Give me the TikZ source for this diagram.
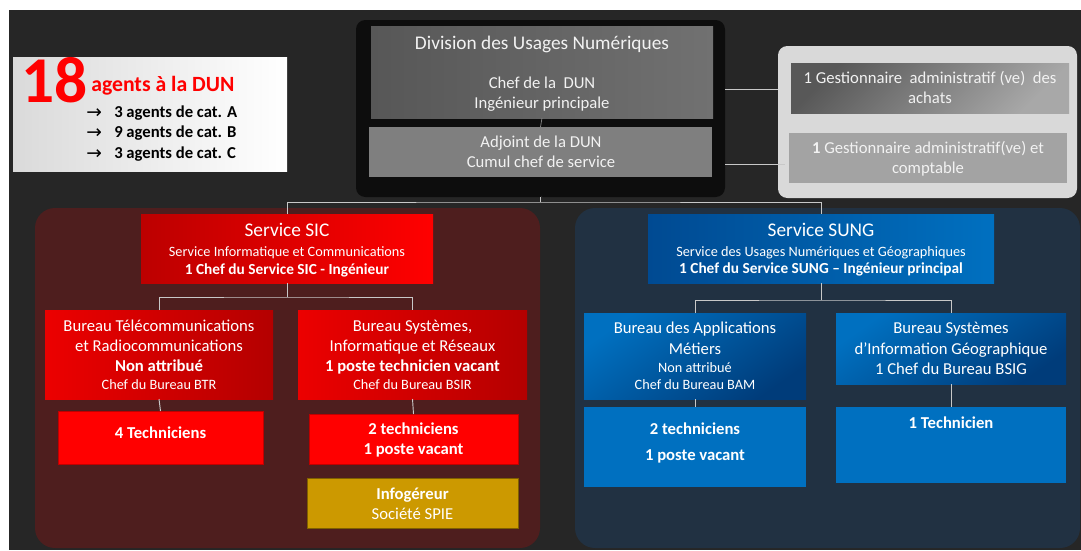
\documentclass[tikz,border=0pt]{standalone}
\usepackage{fontspec}
\setmainfont{Carlito}
\newfontfamily\arrowfont{DejaVu Sans}
\usetikzlibrary{fit}
\definecolor{bgdark}{HTML}{262626}
\definecolor{dunbox}{HTML}{0D0D0D}
\definecolor{chefL}{HTML}{575757}
\definecolor{chefR}{HTML}{717171}
\definecolor{adjgray}{HTML}{7F7F7F}
\definecolor{gestbg}{HTML}{D9D9D9}
\definecolor{achD}{HTML}{585858}
\definecolor{achL}{HTML}{A8A8A8}
\definecolor{cptgray}{HTML}{A3A3A3}
\definecolor{sicbg}{HTML}{4E1E1E}
\definecolor{sungbg}{HTML}{213142}
\definecolor{redD}{HTML}{B40000}
\definecolor{redM}{HTML}{BC0000}
\definecolor{redB}{HTML}{FF0000}
\definecolor{redL}{HTML}{EC0000}
\definecolor{redEdge}{HTML}{C00000}
\definecolor{gold}{HTML}{CC9900}
\definecolor{goldEdge}{HTML}{7F6000}
\definecolor{blueD}{HTML}{004A92}
\definecolor{blueB}{HTML}{0070C0}
\definecolor{blueDD}{HTML}{003C7A}
\definecolor{linegray}{HTML}{C8C8C8}
\definecolor{txtgray}{HTML}{F2F2F2}
\definecolor{agL}{HTML}{DADADA}
\definecolor{agM}{HTML}{C2C2C2}
\newcommand{\myfs}[1]{\fontsize{#1}{#1}\selectfont}
\tikzset{
  box/.style={inner sep=0pt, outer sep=0pt, draw=none},
  conn/.style={draw=linegray, line width=0.7pt},
  txt/.style={inner sep=0pt, anchor=base, text=white},
  tBig/.style={font=\myfs{14.5}},
  tReg/.style={font=\myfs{12.5}},
  tBold/.style={font=\bfseries\myfs{12.5}},
  tSub/.style={font=\myfs{10.7}},
  tSubB/.style={font=\bfseries\myfs{11.5}},
  tArr/.style={inner sep=0pt, anchor=base west, text=black, font=\arrowfont\myfs{14}},
}
\begin{document}
\begin{tikzpicture}[x=0.75pt,y=-0.75pt]
\useasboundingbox (0,0) rectangle (1081,550);
\fill[white] (0,0) rectangle (1081,550);
\fill[bgdark] (9,10) rectangle (1081,550);

% ---- 18 agents box
\node[box, fit={(13,57) (287,171)}, left color=agL, middle color=agM, right color=white] (agbox) {};
\node[txt, anchor=base west, text=red, font=\bfseries\myfs{49}] (n18) at (21,102) {18};
\node[txt, anchor=base west, text=red, font=\bfseries\myfs{16.3}] (agt) at (91,91) {agents à la DUN};
\node[tArr] (arA) at (86,118) {→};
\node[tArr] (arB) at (86,138.5) {→};
\node[tArr] (arC) at (86,159) {→};
\node[txt, anchor=base west, text=black, tBold] (catA) at (114,117) {3 agents de cat. A};
\node[txt, anchor=base west, text=black, tBold] (catB) at (114,137.5) {9 agents de cat. B};
\node[txt, anchor=base west, text=black, tBold] (catC) at (114,158) {3 agents de cat. C};

% ---- DUN
\node[box, fit={(356,20) (725,197)}, fill=dunbox, rounded corners=7pt] (dun) {};
\node[box, fit={(371,26) (713,118)}, left color=chefL, right color=chefR] (chef) {};
\node[box, fit={(369,127) (712,177)}, fill=adjgray] (adj) {};
\draw[draw=gray, line width=0.6pt] (chef.south) -- (adj.north);
\node[txt, text=txtgray, tBig] (dun1) at (542,49) {Division des Usages Numériques};
\node[txt, text=txtgray, tReg] (dun2) at (542,88) {Chef de la~ DUN};
\node[txt, text=txtgray, tReg] (dun3) at (542,108) {Ingénieur principale};
\node[txt, text=txtgray, tReg] (adj1) at (541,147) {Adjoint de la DUN};
\node[txt, text=txtgray, tReg] (adj2) at (541,167) {Cumul chef de service};

% ---- Gestionnaires
\node[box, fit={(778,46) (1077,198)}, fill=gestbg, rounded corners=7pt] (gest) {};
\node[box, fit={(791,63) (1069,113)}, top color=achD, bottom color=achL, shading angle=45] (achats) {};
\node[box, fit={(789,133) (1067,183)}, fill=cptgray] (compt) {};
\node[txt, text=txtgray, tReg] (ach1) at (930,83) {1 Gestionnaire~ administratif (ve)~ des};
\node[txt, text=txtgray, tReg] (ach2) at (930,103) {achats};
\node[txt, text=txtgray, tReg] (cpt1) at (928,153) {\textbf{1} Gestionnaire administratif(ve) et};
\node[txt, text=txtgray, tReg] (cpt2) at (928,173) {comptable};
\coordinate (c1) at (778,89);
\coordinate (c2) at (785,164);
\draw[conn] (dun.east |- c1) -- (c1);
\draw[conn] (dun.east |- c2) -- (c2);

% ---- containers
\node[box, fit={(35,208) (540,548)}, fill=sicbg, rounded corners=15pt] (sicbg) {};
\node[box, fit={(575,208) (1080,548)}, fill=sungbg, rounded corners=15pt] (sungbg) {};

% ---- top connectors
\coordinate (jt) at (542,202);
\draw[conn] (dun.south) -- (dun.south |- jt);
\draw[draw=black!85, line width=0.6pt] (541,196) -- (552,209);

% ---- SIC
\node[box, fit={(141,214) (433,283)}, left color=redM, right color=redB] (sic) {};
\node[txt, tBig] (sic1) at (287,236) {Service SIC};
\node[txt, tSub] (sic2) at (287,256) {Service Informatique et Communications};
\node[txt, tSubB] (sic3) at (287,274) {1 Chef du Service SIC - Ingénieur};

% ---- SUNG
\node[box, fit={(648,214) (994,283)}, left color=blueD, right color=blueB] (sung) {};
\node[txt, tBig] (sung1) at (821,236) {Service SUNG};
\node[txt, tSub] (sung2) at (821,256) {Service des Usages Numériques et Géographiques};
\node[txt, tSubB] (sung3) at (821,273) {1 Chef du Service SUNG – Ingénieur principal};

\draw[conn] (sic.north) |- (jt) -| (sung.north);

% ---- SIC bureaus
\coordinate (j2) at (287,297);
\node[box, fit={(45,310) (273,399)}, left color=redL, right color=redD] (btr) {};
\node[box, fit={(298,310) (527,399)}, left color=redL, right color=redD] (bsir) {};
\draw[conn] (sic.south) -- (j2);
\draw[conn] (btr.north) |- (j2) -| (bsir.north);
\node[txt, tReg] (btr1) at (159,331) {Bureau Télécommunications};
\node[txt, tReg] (btr2) at (159,351) {et Radiocommunications};
\node[txt, tBold] (btr3) at (159,371) {Non attribué};
\node[txt, tSub] (btr4) at (159,389) {Chef du Bureau BTR};
\node[txt, tReg] (bsir1) at (412.5,331) {Bureau Systèmes,};
\node[txt, tReg] (bsir2) at (412.5,351) {Informatique et Réseaux};
\node[txt, tBold] (bsir3) at (412.5,371) {1 poste technicien vacant};
\node[txt, tSub] (bsir4) at (412.5,389) {Chef du Bureau BSIR};

\node[box, fit={(58,411) (263,464)}, fill=redB, draw=redEdge, line width=0.6pt] (btrt) {};
\node[box, fit={(309,414) (518,464)}, fill=redB, draw=redEdge, line width=0.6pt] (bsirt) {};
\draw[conn] (btr.south) -- (btrt.north);
\draw[conn] (bsir.south) -- (bsirt.north);
\node[txt, tBold] (btrt1) at (160.5,438) {4 Techniciens};
\node[txt, tBold] (bsirt1) at (413.5,434) {2 techniciens};
\node[txt, tBold] (bsirt2) at (413.5,454) {1 poste vacant};

\node[box, fit={(307,478) (518,528)}, fill=gold, draw=goldEdge, line width=0.7pt] (info) {};
\node[txt, tBold] (info1) at (412.5,499) {Infogéreur};
\node[txt, tReg] (info2) at (412.5,519) {Société SPIE};

% ---- SUNG bureaus
\coordinate (j3) at (821,300);
\node[box, fit={(584,313) (806,399)}, top color=blueB, bottom color=blueDD, shading angle=35] (bam) {};
\node[box, fit={(836,313) (1066,384)}, top color=blueB, bottom color=blueDD, shading angle=35] (bsig) {};
\draw[conn] (sung.south) -- (j3);
\draw[conn] (bam.north) |- (j3) -| (bsig.north);
\node[txt, tReg] (bam1) at (695,333) {Bureau des Applications};
\node[txt, tReg] (bam2) at (695,354) {Métiers};
\node[txt, tSub] (bam3) at (695,372) {Non attribué};
\node[txt, tSub] (bam4) at (695,389) {Chef du Bureau BAM};
\node[txt, tReg] (bsig1) at (951,333) {Bureau Systèmes};
\node[txt, tReg] (bsig2) at (951,354) {d’Information Géographique};
\node[txt, tReg] (bsig3) at (951,374) {1 Chef du Bureau BSIG};

\node[box, fit={(584,407) (806,487)}, fill=blueB] (bamt) {};
\node[box, fit={(836,407) (1066,483)}, fill=blueB] (bsigt) {};
\draw[conn] (bam.south) -- (bamt.north);
\draw[conn] (bsig.south) -- (bsigt.north);
\node[txt, tBold] (bamt1) at (695,434) {2 techniciens};
\node[txt, tBold] (bamt2) at (695,460) {1 poste vacant};
\node[txt, tBold] (bsigt1) at (951,428) {1 Technicien};
\end{tikzpicture}
\end{document}
